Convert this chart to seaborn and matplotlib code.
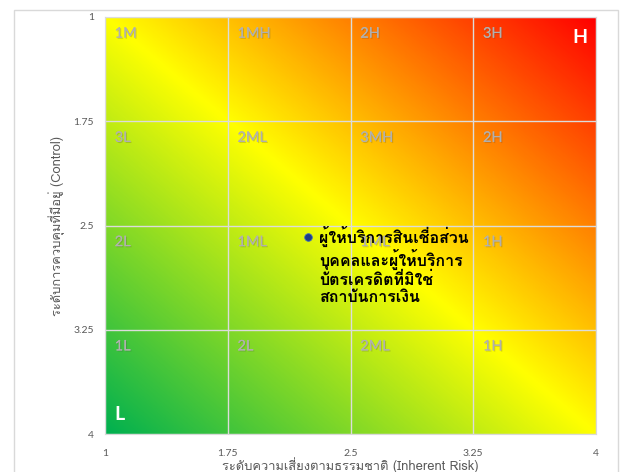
import numpy as np
import pandas as pd
import matplotlib
matplotlib.use("Agg")
import matplotlib.pyplot as plt
import matplotlib.patheffects as pe
from matplotlib.colors import LinearSegmentedColormap
from matplotlib.patches import Rectangle
from matplotlib import font_manager
from matplotlib.ft2font import FT2Font
import seaborn as sns

# ---- data ----
ticks = [1, 1.75, 2.5, 3.25, 4]
tick_labels = ["1", "1.75", "2.5", "3.25", "4"]
row_labels = [
    ["1M", "1MH", "2H", "3H"],
    ["3L", "2ML", "3MH", "2H"],
    ["2L", "1ML", "1ML", "1H"],
    ["1L", "2L", "2ML", "1H"],
]
point_x = [2.24]
point_y = [2.58]
point_name = ["ผู้ให้บริการสินเชื่อส่วน\nบุคคลและผู้ให้บริการ\nบัตรเครดิตที่มิใช่\nสถาบันการเงิน"]
x_title = "ระดับความเสี่ยงตามธรรมชาติ (Inherent Risk)"
y_title = "ระดับการควบคุมที่มีอยู่ (Control)"


def thai_family():
    for fe in font_manager.fontManager.ttflist:
        try:
            f = FT2Font(fe.fname)
            if f.get_char_index(ord("ผ")) != 0:
                return fe.name
        except Exception:
            pass
    return "DejaVu Sans"


sns.set_style("white")
tfam = thai_family()
plt.rcParams["font.family"] = [tfam, "Lato", "DejaVu Sans"]

fig = plt.figure(figsize=(6.21, 4.72), dpi=100)
W, H = 621, 472
ax = fig.add_axes([105 / W, 1 - 434 / H, (596 - 105) / W, (434 - 17) / H])

# outer chart frame
fig.patches.append(Rectangle((14 / W, -0.05), (618 - 14) / W, 1.05 - 10 / H,
                             transform=fig.transFigure, fill=False,
                             edgecolor="#d9d9d9", linewidth=1.0))

# diagonal green-yellow-red background
cmap = LinearSegmentedColormap.from_list("risk", ["#00b050", "#ffff00", "#ff0000"])
n = 400
u = np.linspace(0, 1, n)
U, V = np.meshgrid(u, u)          # V=0 at top row of the image (value 1)
T = (U + (1 - V)) / 2
ax.imshow(T, cmap=cmap, extent=[1, 4, 4, 1], aspect="auto", zorder=0,
          interpolation="bilinear", vmin=0, vmax=1)

ax.set_xlim(1, 4)
ax.set_ylim(4, 1)
ax.set_xticks(ticks)
ax.set_xticklabels(tick_labels)
ax.set_yticks(ticks)
ax.set_yticklabels(tick_labels)
ax.tick_params(axis="both", length=0, labelsize=7.5, colors="#595959")
ax.tick_params(axis="x", pad=11)
ax.tick_params(axis="y", pad=8)
for lbl in ax.get_xticklabels() + ax.get_yticklabels():
    lbl.set_family(["Lato", tfam])
ax.grid(True, color="#dcdcdc", linewidth=1.0, zorder=1)
ax.set_axisbelow(False)
for s in ax.spines.values():
    s.set_color("#d9d9d9")
    s.set_linewidth(0.8)

# cell labels
shadow = [pe.withSimplePatchShadow(offset=(0.8, -0.8), shadow_rgbFace="#404040", alpha=0.22),
          pe.Normal()]
for r, row in enumerate(row_labels):
    for c, txt in enumerate(row):
        ax.annotate(txt, xy=(ticks[c], ticks[r]), xytext=(7, -12),
                    textcoords="offset points", ha="left", va="center",
                    fontsize=10.5, color="#b0b0b0", family=["Lato", tfam],
                    path_effects=shadow, zorder=2)

ax.text(3.95, 1.15, "H", color="white", fontsize=14, fontweight="bold",
        ha="right", va="center", family=["Lato", tfam], zorder=3)
ax.text(1.055, 3.86, "L", color="white", fontsize=14, fontweight="bold",
        ha="left", va="center", family=["Lato", tfam], zorder=3)

# plotted entity
df = pd.DataFrame({"x": point_x, "y": point_y, "name": point_name})
sns.scatterplot(data=df, x="x", y="y", ax=ax, s=30, color="#1f3c88",
                edgecolor="#3f6fbf", linewidth=0.6, zorder=4, legend=False)
for _, rw in df.iterrows():
    ax.annotate(rw["name"], xy=(rw["x"], rw["y"]), xytext=(8, 8),
                textcoords="offset points", ha="left", va="top",
                fontsize=11.5, fontweight="bold", color="black",
                linespacing=1.15, zorder=5)

ax.set_xlabel(x_title, fontsize=9.3, color="#595959", labelpad=-1)
ax.set_ylabel(y_title, fontsize=9.3, color="#595959", labelpad=6)

fig.savefig("out.png", dpi=100)
